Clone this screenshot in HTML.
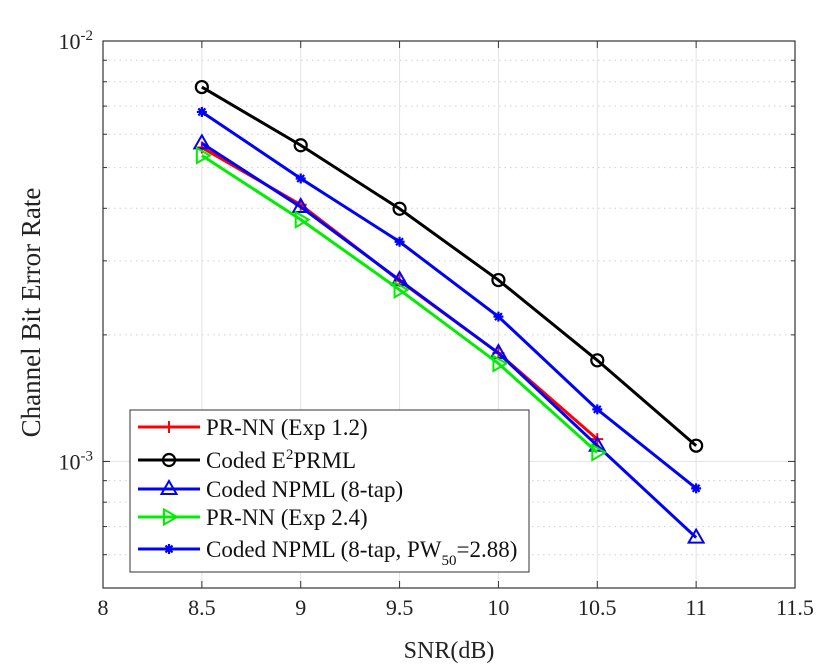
<!DOCTYPE html>
<html><head><meta charset="utf-8"><style>
body{margin:0;background:#fff;}
svg{display:block;font-family:"Liberation Serif",serif;}
</style></head><body>
<svg id="chart" width="830" height="669">
<g id="grid"></g>
<g id="series"></g>
<g id="axes"></g>
</svg>
<script>
const snr = [8.5, 9, 9.5, 10, 10.5, 11];
const prnn12 = [5.58e-3, 4.08e-3, 2.69e-3, 1.81e-3, 1.13e-3];
const e2prml = [7.77e-3, 5.65e-3, 3.99e-3, 2.70e-3, 1.74e-3, 1.09e-3];
const npml8 = [5.71e-3, 4.03e-3, 2.70e-3, 1.81e-3, 1.09e-3, 6.59e-4];
const prnn24 = [5.34e-3, 3.76e-3, 2.56e-3, 1.71e-3, 1.05e-3];
const npmlPw = [6.78e-3, 4.71e-3, 3.33e-3, 2.21e-3, 1.33e-3, 8.63e-4];
const xTicks = [8, 8.5, 9, 9.5, 10, 10.5, 11, 11.5];
const xTickLabels = ["8","8.5","9","9.5","10","10.5","11","11.5"];

const L=103,R=795,T=41,B=588, xMin=8,xMax=11.5, yMin=5e-4,yMax=1e-2;
const xs=v=>L+(v-xMin)/(xMax-xMin)*(R-L);
const ys=v=>T+(Math.log10(yMax)-Math.log10(v))/(Math.log10(yMax)-Math.log10(yMin))*(B-T);
const NS="http://www.w3.org/2000/svg";
function mk(tag,attrs,parent){const e=document.createElementNS(NS,tag);for(const k in attrs)e.setAttribute(k,attrs[k]);parent.appendChild(e);return e;}
const grid=document.getElementById('grid'),ser=document.getElementById('series'),axes=document.getElementById('axes');

xTicks.forEach(t=>{const l=mk('line',{x1:xs(t),x2:xs(t),y1:T,y2:B,stroke:'#e3e3e3','stroke-width':1},grid);
});
[[1e-4,1e-3],[1e-3,1e-2]].forEach(([d])=>{for(let m=1;m<10;m++){const v=d*m;if(v<yMin||v>yMax)continue;
 const major=(m===1);
 const l=mk('line',{x1:L,x2:R,y1:ys(v),y2:ys(v),stroke:major?'#e3e3e3':'#d0d0d0','stroke-width':1,'stroke-dasharray':major?'':'1.5,4'},grid);
 
 const tk=mk('line',{x1:L,x2:L+(major?7:4),y1:ys(v),y2:ys(v),stroke:'#333'},axes);
 const tk2=mk('line',{x1:R,x2:R-(major?7:4),y1:ys(v),y2:ys(v),stroke:'#333'},axes);
}});
mk('line',{x1:L,x2:R,y1:T,y2:T,stroke:'#e3e3e3'},grid);

function marker(type,x,y,color,g){
 let e;
 if(type==='plus'){e=mk('path',{d:`M${x-6} ${y}H${x+6}M${x} ${y-6}V${y+6}`,stroke:color,'stroke-width':2,fill:'none'},g);}
 else if(type==='circle'){e=mk('circle',{cx:x,cy:y,r:6,stroke:color,'stroke-width':2.2,fill:'none'},g);}
 else if(type==='tri'){e=mk('path',{d:`M${x} ${y-8}L${x+7.5} ${y+5}L${x-7.5} ${y+5}Z`,stroke:color,'stroke-width':2,fill:'none'},g);}
 else if(type==='rtri'){e=mk('path',{d:`M${x+8} ${y}L${x-5} ${y-7.5}L${x-5} ${y+7.5}Z`,stroke:color,'stroke-width':2,fill:'none'},g);}
 else {e=mk('path',{d:`M${x-5} ${y}H${x+5}M${x} ${y-5}V${y+5}M${x-3.5} ${y-3.5}L${x+3.5} ${y+3.5}M${x-3.5} ${y+3.5}L${x+3.5} ${y-3.5}`,stroke:color,'stroke-width':2.2,fill:'none'},g);}
 return e;
}
const seriesDefs=[
 {name:'e2prml',data:e2prml,color:'#000',m:'circle',label:'Coded E<tspan dy="-9" font-size="15">2</tspan><tspan dy="9">PRML</tspan>'},
 {name:'npml-pw50',data:npmlPw,color:'#0000ff',m:'star',label:'Coded NPML (8-tap, PW<tspan dy="8" font-size="15">50</tspan><tspan dy="-8">=2.88)</tspan>'},
 {name:'prnn-exp12',data:prnn12,color:'#ff0000',m:'plus',label:'PR-NN (Exp 1.2)'},
 {name:'npml-8tap',data:npml8,color:'#0000ff',m:'tri',label:'Coded NPML (8-tap)'},
 {name:'prnn-exp24',data:prnn24,color:'#00ee00',m:'rtri',label:'PR-NN (Exp 2.4)'},
];
seriesDefs.forEach(s=>{
 const g=mk('g',{},ser);
 const pts=s.data.map((v,i)=>xs(snr[i])+','+ys(v)).join(' ');
 const pl=mk('polyline',{points:pts,fill:'none',stroke:s.color,'stroke-width':3},g);
 
 s.data.forEach((v,i)=>{const e=marker(s.m,xs(snr[i]),ys(v),s.color,g);
  });
});

const box=mk('rect',{x:L,y:T,width:R-L,height:B-T,fill:'none',stroke:'#333','stroke-width':1.2},axes);

xTicks.forEach((t,i)=>{
 const a=mk('line',{x1:xs(t),x2:xs(t),y1:B,y2:B-7,stroke:'#333'},axes);
 const b=mk('line',{x1:xs(t),x2:xs(t),y1:T,y2:T+7,stroke:'#333'},axes);
 const tx=mk('text',{x:xs(t),y:B+27,'text-anchor':'middle','font-size':22,fill:'#222'},axes);tx.textContent=xTickLabels[i];
 
});
[[1e-2,'-2'],[1e-3,'-3']].forEach(([v,e])=>{
 const tx=mk('text',{x:L-10,y:ys(v)+8,'text-anchor':'end','font-size':22,fill:'#222'},axes);
 tx.innerHTML='10<tspan dy="-9" font-size="15">'+e+'</tspan>';
 
});
const xl=mk('text',{x:(L+R)/2,y:658,'text-anchor':'middle','font-size':24,fill:'#222'},axes);xl.textContent='SNR(dB)';

const yl=mk('text',{x:0,y:0,'text-anchor':'middle','font-size':27,fill:'#222',transform:`translate(40,${(T+B)/2-2}) rotate(-90)`},axes);yl.textContent='Channel Bit Error Rate';


const lg=mk('g',{},axes);
mk('rect',{x:130,y:410,width:399,height:162,fill:'#fff',stroke:'#333','stroke-width':1},lg);
const order=[2,0,3,4,1],rowsY=[427,460,489,517,549];
order.forEach((si,r)=>{const s=seriesDefs[si];const y=rowsY[r];
 const e=mk('g',{},lg);
 mk('line',{x1:138,x2:200,y1:y,y2:y,stroke:s.color,'stroke-width':3},e);
 marker(s.m,169,y,s.color,e);
 const t=mk('text',{x:206,y:y+8,'font-size':23,fill:'#111'},e);t.innerHTML=s.label;
});
</script>
</body></html>
